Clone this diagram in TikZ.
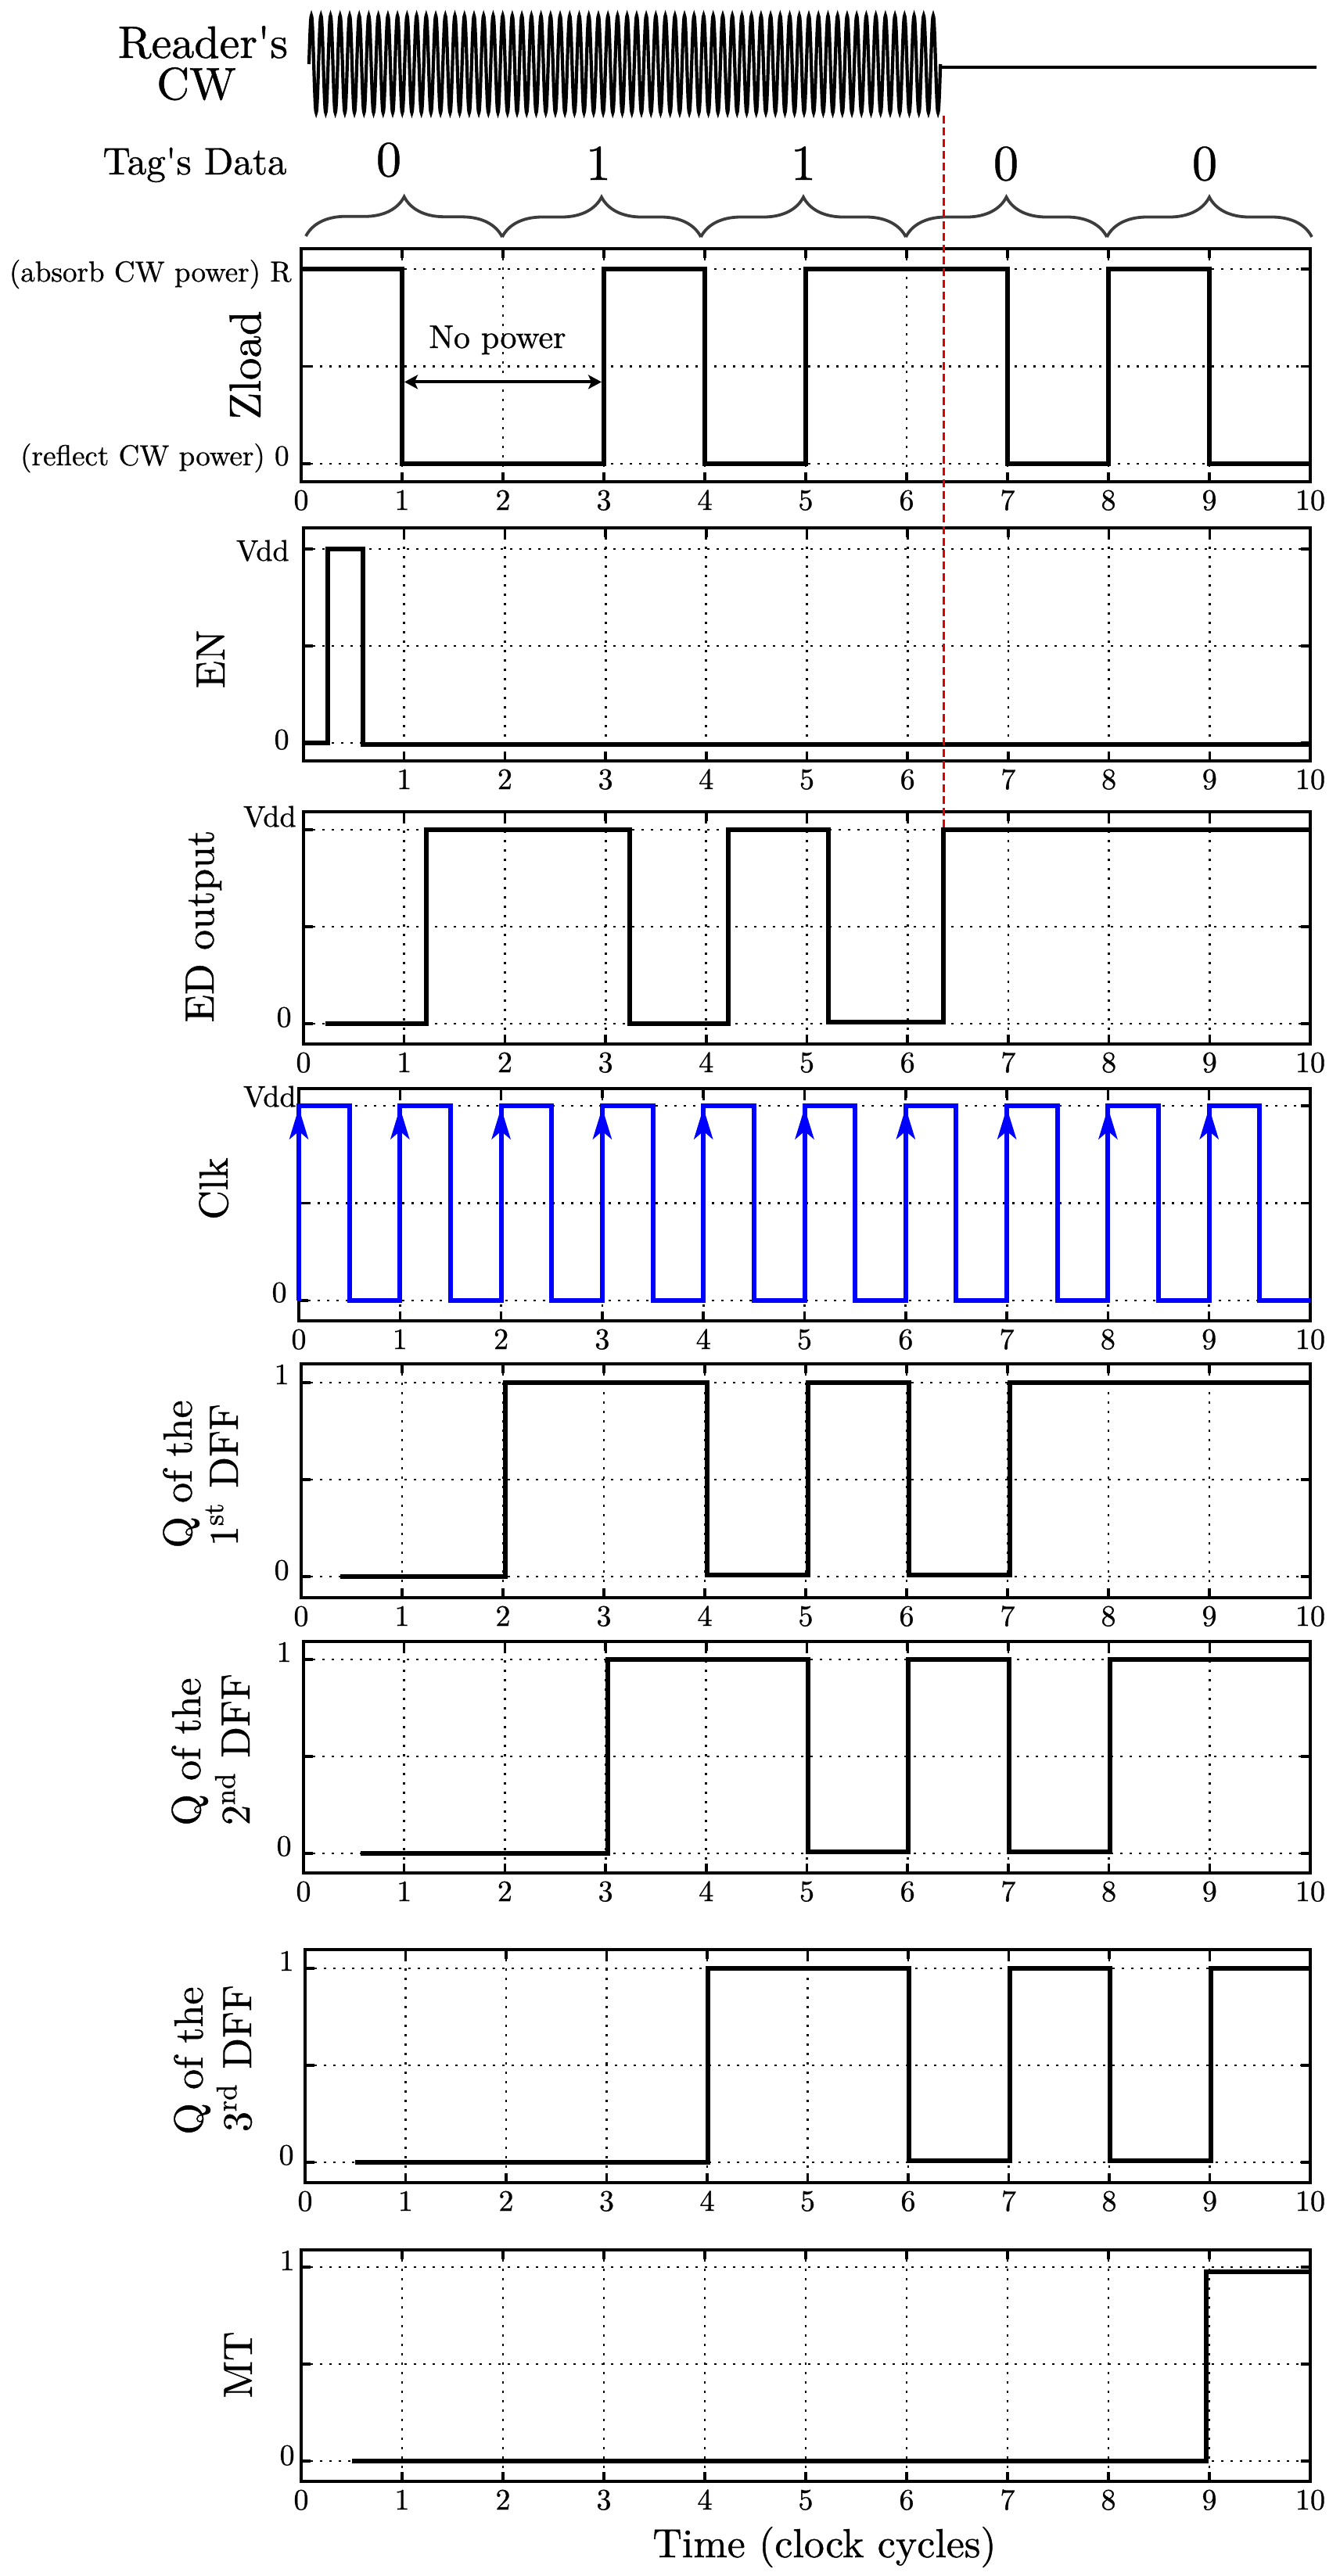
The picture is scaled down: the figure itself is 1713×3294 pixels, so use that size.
\documentclass[tikz,border=0pt]{standalone}
\usepackage{fontspec}
\newfontfamily\heavyrm{lmroman10-regular}[Extension=.otf, FakeBold=0.8]
\usetikzlibrary{arrows.meta,decorations.pathreplacing}
\definecolor{clkblue}{RGB}{0,0,255}
\definecolor{reddash}{RGB}{225,0,0}
\definecolor{bracegray}{RGB}{60,60,60}
\newcommand\tsz[2]{\scalebox{#1}{#2}}
\tikzset{
  txt/.style={font=\heavyrm\fontsize{10}{12}\selectfont, inner sep=0pt},
  panframe/.style={line width=1.75pt},
  tickline/.style={line width=1.75pt},
  gridline/.style={line width=1.4pt, dash pattern=on 1.4pt off 4.6pt},
  sig/.style={line width=3pt, line join=miter},
  clksig/.style={line width=3pt, draw=clkblue, line join=miter},
  ticklabel/.style={txt, anchor=base},
  ytl/.style={txt, anchor=base east},
  ylab/.style={txt, anchor=base, rotate=90},
  bitlab/.style={txt, anchor=base},
  toplab/.style={txt, anchor=base},
  databrace/.style={draw=bracegray, line width=1.9pt, decorate, decoration={brace, amplitude=25.5pt, aspect=0.5}},
  cwline/.style={line width=2.1pt},
  cwflat/.style={line width=2pt},
  redline/.style={draw=reddash, line width=1.5pt, dash pattern=on 5pt off 2.5pt},
  nparrow/.style={line width=2pt, {Stealth[length=8.5pt,width=9pt,inset=2pt]}-{Stealth[length=8.5pt,width=9pt,inset=2pt]}, shorten <=1.5pt, shorten >=1.5pt}
}
% #1 x0, #2 top, #3 bottom, #4 level1, #5 level0, #6 first x label, #7 name
\newcommand\drawpanel[7]{%
  \pgfmathsetmacro\panu{(1675-#1)/10}%
  \pgfmathsetmacro\panmid{(#4+#5)/2}%
  \foreach \i in {1,...,9}{\draw[gridline] ({#1+\i*\panu},#2) -- ({#1+\i*\panu},#3);}
  \foreach \yy in {#4,\panmid,#5}{\draw[gridline] (#1,\yy) -- (1675,\yy);}
  \foreach \i in {1,...,9}{\draw[tickline] ({#1+\i*\panu},#2) -- ++(0,12) ({#1+\i*\panu},#3) -- ++(0,-12);}
  \foreach \yy in {#4,\panmid,#5}{\draw[tickline] (#1,\yy) -- ++(12,0) (1675,\yy) -- ++(-12,0);}
  \draw[panframe] (#1,#2) rectangle (1675,#3);
  \foreach \i in {#6,...,10}{\node[ticklabel] (#7-x\i) at ({#1+\i*\panu},{#3+36}) {\tsz{1.9}{\i}};}
}
\begin{document}
\begin{tikzpicture}[x=0.5pt,y=-0.5pt]
\useasboundingbox (0,0) rectangle (1713,3294);

% ---------- Reader's CW ----------
\node[toplab] (readers) at (259.5,74) {\tsz{2.9}{Reader\textquotesingle s}};
\node[toplab] (cwlab) at (251,127) {\tsz{2.9}{CW}};
\draw[cwline] (395,82) \foreach \i in {1,...,66}{ sin ++(3.0575,-62) cos ++(3.0575,62) sin ++(3.0575,62) cos ++(3.0575,-62) };
\coordinate (cwstop) at (1202,86);
\coordinate (cwright) at (1683,86);
\draw[cwflat] (cwstop) -- (cwright);
\coordinate (redtop) at (1206,148);

% ---------- Tag's data ----------
\node[toplab] (tagdata) at (249,223) {\tsz{2.45}{Tag\textquotesingle s Data}};
\node[bitlab] (bit1) at (497,225) {\tsz{3.2}{0}};
\node[bitlab] (bit2) at (765,230) {\tsz{3.2}{1}};
\node[bitlab] (bit3) at (1027,230) {\tsz{3.2}{1}};
\node[bitlab] (bit4) at (1286,230) {\tsz{3.2}{0}};
\node[bitlab] (bit5) at (1540,230) {\tsz{3.2}{0}};
\coordinate (b0) at (391,302);
\coordinate (b1) at (642,303);
\coordinate (b2) at (896,303);
\coordinate (b3) at (1158,303);
\coordinate (b4) at (1415,303);
\coordinate (b5) at (1677,303);
\draw[databrace] (b0) -- (b1);
\draw[databrace] (b1) -- (b2);
\draw[databrace] (b2) -- (b3);
\draw[databrace] (b3) -- (b4);
\draw[databrace] (b4) -- (b5);

% ---------- Zload ----------
\drawpanel{385}{318}{616}{344}{593}{0}{zl}
\begin{scope}[shift={(385,593)}, xscale=129, yscale=-249]
  \draw[sig] (0,1) -- (1,1) -- (1,0) -- (3,0) -- (3,1) -- (4,1) -- (4,0) -- (5,0) -- (5,1) -- (7,1) -- (7,0) -- (8,0) -- (8,1) -- (9,1) -- (9,0) -- (10,0);
  \coordinate (np1) at (1,0.42);
  \coordinate (np2) at (3,0.42);
\end{scope}
\draw[nparrow] (np1) -- (np2);
\node[txt, anchor=base] (nopower) at (636,445) {\tsz{2.1}{No power}};
\node[ytl] (zlR) at (373,360) {\tsz{1.85}{(absorb CW power) R}};
\node[ytl] (zl0) at (370,595) {\tsz{1.85}{(reflect CW power) 0}};
\node[ylab] (zlab) at (333,467) {\tsz{2.85}{Zload}};

% ---------- EN ----------
\drawpanel{388}{675}{973}{702}{950}{1}{en}
\begin{scope}[shift={(388,950)}, xscale=128.7, yscale=-248]
  \draw[sig] (0,0) -- (0.24,0) -- (0.24,1) -- (0.59,1) -- (0.59,-0.01) -- (10,-0.01);
\end{scope}
\node[ytl] (enV) at (370,717) {\tsz{1.9}{Vdd}};
\node[ytl] (en0) at (370,958) {\tsz{1.9}{0}};
\node[ylab] (enlab) at (287,843) {\tsz{2.6}{EN}};

% ---------- ED output ----------
\drawpanel{388}{1038}{1335}{1061}{1309}{0}{ed}
\begin{scope}[shift={(388,1309)}, xscale=128.7, yscale=-248]
  \draw[sig] (0.22,0) -- (1.22,0) -- (1.22,1) -- (3.24,1) -- (3.24,0) -- (4.22,0) -- (4.22,1) -- (5.21,1) -- (5.21,0.01) -- (6.356,0.01) -- (6.356,1) -- (10,1);
  \coordinate (edrise) at (6.356,1);
\end{scope}
\node[ytl] (edV) at (379,1057) {\tsz{1.9}{Vdd}};
\node[ytl] (ed0) at (373,1313) {\tsz{1.9}{0}};
\node[ylab] (edlab) at (273,1184.5) {\tsz{2.6}{ED output}};

% ---------- Clk ----------
\drawpanel{382}{1392}{1689}{1414}{1663}{0}{ck}
\begin{scope}[shift={(382,1663)}, xscale=129.3, yscale=-249]
  \draw[clksig] (0,0) \foreach \i in {0,...,9}{ -- (\i,1) -- ({\i+0.5},1) -- ({\i+0.5},0) -- ({\i+1},0)};
  \foreach \i in {0,...,9}{\draw[clksig, -{Stealth[length=20pt,width=12pt,inset=5pt]}] (\i,0.5) -- (\i,0.99);}
\end{scope}
\node[ytl] (ckV) at (379,1415) {\tsz{1.9}{Vdd}};
\node[ytl] (ck0) at (367,1665) {\tsz{1.9}{0}};
\node[ylab] (cklab) at (291,1520) {\tsz{2.6}{Clk}};

% ---------- Q 1st DFF ----------
\drawpanel{385}{1744}{2043}{1768}{2016}{0}{qa}
\begin{scope}[shift={(385,2016)}, xscale=129, yscale=-248]
  \draw[sig] (0.39,0) -- (2.02,0) -- (2.02,1) -- (4.02,1) -- (4.02,0.01) -- (5.02,0.01) -- (5.02,1) -- (6.02,1) -- (6.02,0.01) -- (7.02,0.01) -- (7.02,1) -- (10,1);
\end{scope}
\node[ytl] (qa1) at (370,1770) {\tsz{1.9}{1}};
\node[ytl] (qa0) at (370,2020) {\tsz{1.9}{0}};
\node[ylab] (qalab1) at (245,1885) {\tsz{2.6}{Q of the}};
\node[ylab] (qalab2) at (304,1886) {\tsz{2.6}{1\textsuperscript{st} DFF}};

% ---------- Q 2nd DFF ----------
\drawpanel{388}{2099}{2395}{2122}{2370}{0}{qb}
\begin{scope}[shift={(388,2370)}, xscale=128.7, yscale=-248]
  \draw[sig] (0.57,0) -- (3.02,0) -- (3.02,1) -- (5.01,1) -- (5.01,0.01) -- (6.01,0.01) -- (6.01,1) -- (7.01,1) -- (7.01,0.01) -- (8.01,0.01) -- (8.01,1) -- (10,1);
\end{scope}
\node[ytl] (qb1) at (373,2125) {\tsz{1.9}{1}};
\node[ytl] (qb0) at (373,2373) {\tsz{1.9}{0}};
\node[ylab] (qblab1) at (256,2240) {\tsz{2.6}{Q of the}};
\node[ylab] (qblab2) at (319,2237) {\tsz{2.6}{2\textsuperscript{nd} DFF}};

% ---------- Q 3rd DFF ----------
\drawpanel{390}{2493}{2791}{2517}{2765}{0}{qc}
\begin{scope}[shift={(390,2765)}, xscale=128.5, yscale=-248]
  \draw[sig] (0.5,0) -- (4.01,0) -- (4.01,1) -- (6.01,1) -- (6.01,0.01) -- (7.01,0.01) -- (7.01,1) -- (8.01,1) -- (8.01,0.01) -- (9.01,0.01) -- (9.01,1) -- (10,1);
\end{scope}
\node[ytl] (qc1) at (376,2520) {\tsz{1.9}{1}};
\node[ytl] (qc0) at (376,2768) {\tsz{1.9}{0}};
\node[ylab] (qclab1) at (259,2635) {\tsz{2.6}{Q of the}};
\node[ylab] (qclab2) at (321,2632) {\tsz{2.6}{3\textsuperscript{rd} DFF}};

% ---------- MT ----------
\drawpanel{385}{2877}{3173}{2899}{3147}{0}{mt}
\begin{scope}[shift={(385,3147)}, xscale=129, yscale=-248]
  \draw[sig] (0.5,0) -- (8.97,0) -- (8.97,0.975) -- (10,0.975);
\end{scope}
\node[ytl] (mt1) at (377,2903) {\tsz{1.9}{1}};
\node[ytl] (mt0) at (377,3152) {\tsz{1.9}{0}};
\node[ylab] (mtlab) at (322,3024) {\tsz{2.6}{MT}};
\node[txt, anchor=base] (timelab) at (1054,3270) {\tsz{2.6}{Time (clock cycles)}};

% ---------- red dashed marker ----------
\draw[redline] (edrise |- redtop) -- (edrise);
\end{tikzpicture}
\end{document}
